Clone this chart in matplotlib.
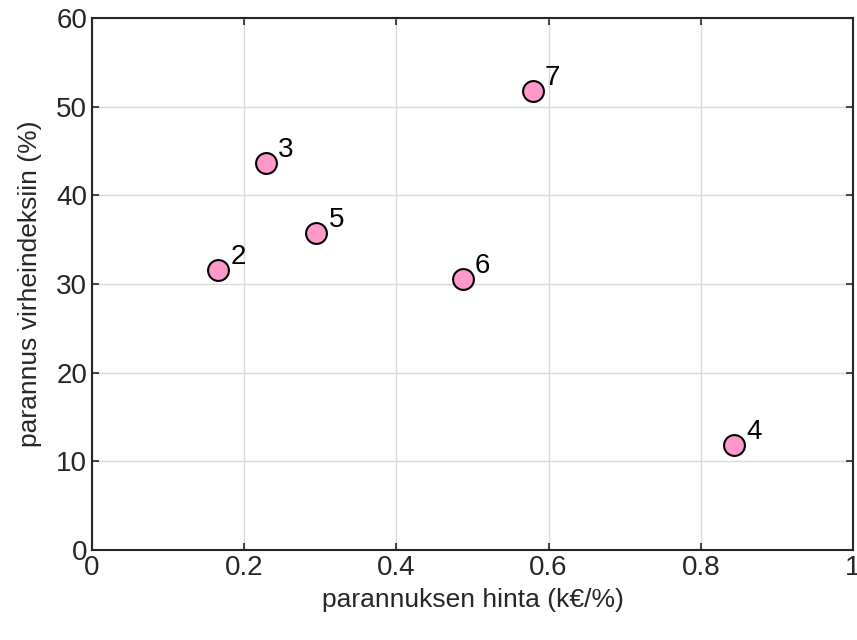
import matplotlib
matplotlib.use("Agg")
import matplotlib.pyplot as plt

# data
labels = ["2", "3", "5", "6", "7", "4"]
hinta = [0.166, 0.228, 0.295, 0.487, 0.579, 0.844]
parannus = [31.6, 43.7, 35.7, 30.6, 51.8, 11.8]

plt.rcParams["font.family"] = ["Liberation Sans", "DejaVu Sans"]

fig = plt.figure(figsize=(8.57, 6.4), dpi=100)
ax = fig.add_axes([92 / 857, 90 / 640, 761 / 857, 532 / 640])

ax.plot(hinta, parannus, "o", markersize=15, markerfacecolor="#ff99cc",
        markeredgecolor="black", markeredgewidth=1.5, zorder=3)
for x, y, t in zip(hinta, parannus, labels):
    ax.annotate(t, (x, y), xytext=(9, 0), textcoords="offset points",
                fontsize=20, ha="left", va="bottom")

ax.set_xlim(0, 1)
ax.set_ylim(0, 60)
ax.set_xticks([0, 0.2, 0.4, 0.6, 0.8, 1])
ax.set_xticklabels(["0", "0.2", "0.4", "0.6", "0.8", "1"])
ax.set_yticks(range(0, 61, 10))
ax.grid(True, color="#d9d9d9", linewidth=1)
ax.set_axisbelow(True)
ax.tick_params(direction="in", labelsize=20, length=5, width=1.2, color="#262626",
               labelcolor="#262626", top=True, right=True)
for s in ax.spines.values():
    s.set_linewidth(1.5)
    s.set_color("#262626")

ax.set_xlabel("parannuksen hinta (k€/%)", fontsize=19, color="#262626", labelpad=5)
ax.set_ylabel("parannus virheindeksiin (%)", fontsize=19, color="#262626", labelpad=10)

fig.savefig("out.png", dpi=100)
